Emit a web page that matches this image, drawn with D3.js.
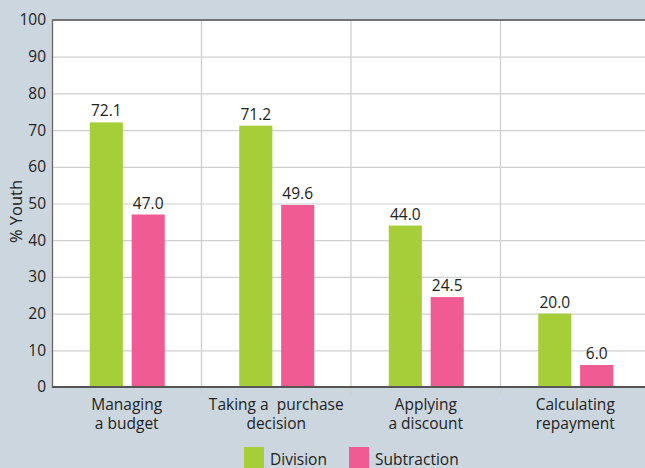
<!DOCTYPE html>
<html>
<head>
<meta charset="utf-8">
<script src="https://cdn.jsdelivr.net/npm/d3@7"></script>
<style>
  html, body { margin: 0; padding: 0; background: #cbd6de; }
  svg { display: block; font-family: "Open Sans", "DejaVu Sans", sans-serif; }
</style>
</head>
<body>
<svg id="chart"></svg>
<script>
const categories = [["Managing", "a budget"], ["Taking a  purchase", "decision"], ["Applying", "a discount"], ["Calculating", "repayment"]];
const seriesNames = ["Division", "Subtraction"];
const division = [72.1, 71.2, 44.0, 20.0];
const subtraction = [47.0, 49.6, 24.5, 6.0];
const yTicks = [0, 10, 20, 30, 40, 50, 60, 70, 80, 90, 100];

const width = 645, height = 468;
const margin = {top: 20, right: -5, bottom: 81, left: 52};
const colors = {Division: "#a6ce39", Subtraction: "#ef5b92"};

const svg = d3.select("#chart").attr("width", width).attr("height", height);

const x = d3.scaleBand()
    .domain(categories.map((d, i) => i))
    .range([margin.left, width - margin.right]);
const xInner = d3.scaleBand()
    .domain(seriesNames)
    .range([x.bandwidth() / 2 - 37, x.bandwidth() / 2 + 38])
    .paddingInner(0.21);
const y = d3.scaleLinear()
    .domain([0, 100])
    .range([height - margin.bottom, margin.top]);

// plot background
svg.append("rect")
    .attr("x", margin.left).attr("y", margin.top)
    .attr("width", width - margin.left).attr("height", y(0) - margin.top)
    .attr("fill", "#fff");

// horizontal grid
svg.append("g")
    .attr("transform", "translate(" + margin.left + ",0)")
    .call(d3.axisRight(y).tickValues(yTicks).tickSize(width - margin.left).tickFormat(""))
    .call(g => g.select(".domain").remove())
    .call(g => g.selectAll("line").attr("stroke", "#d0d0d0").attr("stroke-width", 1.2));

// vertical separators between groups
const seps = categories.map((d, i) => x(i)).slice(1);
svg.append("g").selectAll("line").data(seps).join("line")
    .attr("x1", d => d).attr("x2", d => d)
    .attr("y1", margin.top).attr("y2", y(0) + 8)
    .attr("stroke", "#cfcfcf").attr("stroke-width", 1.3);

// top border
svg.append("line")
    .attr("x1", margin.left).attr("x2", width)
    .attr("y1", margin.top).attr("y2", margin.top)
    .attr("stroke", "#555").attr("stroke-width", 1.5);

// y axis
const yAxis = svg.append("g")
    .attr("transform", "translate(" + margin.left + ",0)")
    .call(d3.axisLeft(y).tickValues(yTicks).tickSize(0).tickPadding(6));
yAxis.select(".domain").attr("stroke", "#666").attr("stroke-width", 1.3);
yAxis.selectAll("text").attr("font-size", 15.5).attr("fill", "#222")
    .attr("font-family", "\"Open Sans\", sans-serif");

svg.append("text")
    .attr("transform", "translate(22," + ((margin.top + y(0)) / 2 + 8) + ") rotate(-90)")
    .attr("text-anchor", "middle")
    .attr("font-size", 16.5).attr("fill", "#222")
    .text("% Youth");

// bars
const rows = categories.map((c, i) => ({i: i, values: [
    {key: "Division", value: division[i]},
    {key: "Subtraction", value: subtraction[i]}
]}));

const groups = svg.append("g").selectAll("g").data(rows).join("g")
    .attr("transform", d => "translate(" + x(d.i) + ",0)");

groups.selectAll("rect").data(d => d.values).join("rect")
    .attr("x", d => xInner(d.key))
    .attr("y", d => y(d.value))
    .attr("width", xInner.bandwidth())
    .attr("height", d => y(0) - y(d.value))
    .attr("fill", d => colors[d.key]);

groups.selectAll("text.val").data(d => d.values).join("text")
    .attr("class", "val")
    .attr("x", d => xInner(d.key) + xInner.bandwidth() / 2)
    .attr("y", d => y(d.value) - 6)
    .attr("text-anchor", "middle")
    .attr("font-size", 15.5).attr("fill", "#222")
    .text(d => d.value.toFixed(1));

// bottom axis line
svg.append("line")
    .attr("x1", margin.left).attr("x2", width)
    .attr("y1", y(0)).attr("y2", y(0))
    .attr("stroke", "#555").attr("stroke-width", 2);

// category labels
const xLabels = svg.append("g").selectAll("text").data(categories).join("text")
    .attr("x", (d, i) => x(i) + x.bandwidth() / 2)
    .attr("y", 410)
    .attr("text-anchor", "middle")
    .attr("font-size", 15.5).attr("fill", "#222");
xLabels.selectAll("tspan").data(d => d).join("tspan")
    .attr("x", function() { return d3.select(this.parentNode).attr("x"); })
    .attr("dy", (d, j) => j === 0 ? 0 : 18.5)
    .attr("xml:space", "preserve")
    .style("white-space", "pre")
    .text(d => d);

// legend
const legendX = [244, 349];
const legend = svg.append("g").selectAll("g").data(seriesNames).join("g")
    .attr("transform", (d, i) => "translate(" + legendX[i] + ",447)");
legend.append("rect")
    .attr("width", 20).attr("height", 21)
    .attr("fill", d => colors[d]);
legend.append("text")
    .attr("x", 26).attr("y", 18)
    .attr("font-size", 15.5).attr("fill", "#222")
    .text(d => d);
</script>
</body>
</html>
